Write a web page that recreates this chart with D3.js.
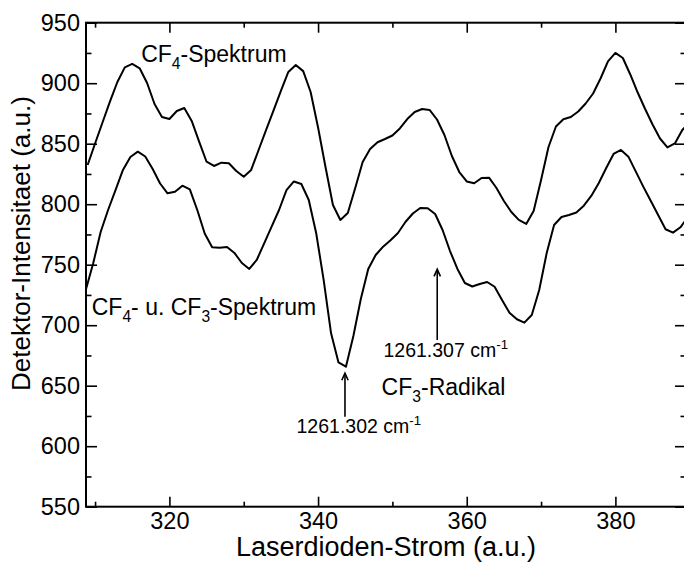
<!DOCTYPE html>
<html>
<head>
<meta charset="utf-8">
<script src="https://cdn.jsdelivr.net/npm/d3@7"></script>
<style>
  body { margin: 0; background: #fff; }
  text { font-family: "Liberation Sans", Arial, Helvetica, sans-serif; fill: #000; }
</style>
</head>
<body>
<svg id="chart" width="684" height="563"></svg>
<script>
// Laser diode current sweep (a.u.)
const xPure = [309, 310, 311, 312, 313, 314, 315, 316, 317, 318, 319, 320, 321, 322, 323, 324, 325, 326, 327, 328,
  329, 330, 331, 332, 333, 334, 335, 336, 337, 338, 339, 340, 341, 342, 343, 344, 345, 346, 347, 348,
  349, 350, 351, 352, 353, 354, 355, 356, 357, 358, 359, 360, 361, 362, 363, 364, 365, 366, 367, 368,
  369, 370, 371, 372, 373, 374, 375, 376, 377, 378, 379, 380, 381, 382, 383, 384, 385, 386, 387, 388,
  389, 390];
// CF4 spectrum (detector intensity, a.u.)
const yPure = [832.4, 850.2, 867.5, 884.8, 901.0, 913.1, 915.9, 912.3, 900.2, 882.8, 872.1, 870.4, 877.0, 879.5, 868.8, 851.7, 835.1, 831.6, 834.3, 833.8,
  827.4, 822.7, 828.3, 844.8, 861.3, 877.4, 893.6, 909.3, 915.0, 910.0, 892.7, 863.4, 830.7, 799.3, 787.0, 792.8, 813.4, 834.9, 845.6, 851.2,
  853.9, 856.8, 862.6, 870.4, 876.2, 878.7, 877.9, 870.0, 857.2, 839.8, 826.6, 818.8, 817.3, 821.7, 821.9, 813.4, 802.6, 793.6, 787.0, 783.7,
  794.4, 820.0, 847.3, 864.2, 870.2, 872.1, 876.6, 883.2, 891.5, 903.9, 918.0, 925.0, 920.8, 907.2, 892.3, 878.7, 865.9, 854.3, 846.9, 850.2,
  861.3, 868.0];

// Discharge scan: CF4 + CF3 spectrum
const xMix = [308.75, 309.75, 310.75, 311.75, 312.75, 313.75, 314.75, 315.75, 316.75, 317.75, 318.75, 319.75, 320.75, 321.75, 322.75, 323.75, 324.75, 325.75, 326.75, 327.75,
  328.75, 329.75, 330.75, 331.75, 332.75, 333.75, 334.75, 335.75, 336.75, 337.75, 338.75, 339.75, 340.75, 341.75, 342.75, 343.75, 344.75, 345.75, 346.75, 347.75,
  348.75, 349.75, 350.75, 351.75, 352.75, 353.75, 354.75, 355.75, 356.75, 357.75, 358.75, 359.75, 360.75, 361.75, 362.75, 363.75, 364.75, 365.75, 366.75, 367.75,
  368.75, 369.75, 370.75, 371.75, 372.75, 373.75, 374.75, 375.75, 376.75, 377.75, 378.75, 379.75, 380.75, 381.75, 382.75, 383.75, 384.75, 385.75, 386.75, 387.75,
  388.75, 389.75];
const yMix = [729.1, 751.2, 777.0, 795.2, 811.7, 828.3, 839.0, 843.4, 839.4, 829.1, 817.1, 809.0, 810.3, 815.3, 812.3, 795.2, 775.8, 764.4, 764.0, 764.6,
  759.7, 751.4, 746.5, 753.9, 767.7, 781.4, 795.2, 811.7, 818.8, 816.7, 803.5, 776.0, 737.4, 693.3, 669.2, 665.7, 691.1, 721.7, 746.5, 758.0,
  764.9, 770.2, 776.2, 785.3, 792.3, 796.9, 796.6, 791.9, 778.7, 761.3, 746.5, 734.9, 732.0, 734.1, 735.7, 731.8, 720.8, 710.3, 704.9, 702.1,
  708.4, 729.1, 759.4, 782.8, 789.4, 791.1, 793.1, 798.8, 806.8, 817.3, 829.7, 841.5, 844.8, 839.3, 826.9, 814.5, 802.9, 791.1, 779.3, 776.5,
  780.9, 789.4];

// Axis ticks
const xMajorTicks = [320, 340, 360, 380];
const xMinorTicks = [310, 330, 350, 370, 390];
const yMajorTicks = [550, 600, 650, 700, 750, 800, 850, 900, 950];
const yMinorTicks = [575, 625, 675, 725, 775, 825, 875, 925];

// Arrows marking the CF3 absorption lines: [x, tip y, tail y]
const arrowX = [343.62, 356.03];
const arrowTip = [660.3, 746.2];
const arrowTail = [624.4, 687.8];

const svg = d3.select("#chart");
const frameL = 86, frameR = 686, frameT = 22.7, frameB = 506.7;

// x scale fixed by the tick positions 320 and 380
const xTmp = d3.scaleLinear().domain([320, 380]).range([169.4, 615.4]);
const x = d3.scaleLinear().domain([xTmp.invert(frameL), xTmp.invert(frameR)]).range([frameL, frameR]);
const y = d3.scaleLinear().domain([550, 950]).range([frameB, frameT]);

svg.append("defs").append("clipPath").attr("id", "clip")
  .append("rect").attr("x", frameL).attr("y", frameT).attr("width", frameR - frameL).attr("height", frameB - frameT);

// Spectra
const line = d3.line().x(d => x(d[0])).y(d => y(d[1]));
const curves = svg.append("g").attr("clip-path", "url(#clip)");
[[xPure, yPure], [xMix, yMix]].forEach(([xs, ys]) => {
  curves.append("path")
    .datum(xs.map((v, i) => [v, ys[i]]))
    .attr("d", line)
    .attr("fill", "none")
    .attr("stroke", "#000")
    .attr("stroke-width", 2)
    .attr("stroke-linejoin", "round");
});

// Axes: ticks pointing into the frame on all four sides
const fs = 23.5;
function styleAxis(g) {
  g.select(".domain").remove();
  g.selectAll(".tick line").attr("stroke", "#000").attr("stroke-width", 1.6);
  g.selectAll("text").attr("font-size", fs).attr("font-family", "Liberation Sans, Arial, sans-serif").attr("fill", "#000");
}
svg.append("g").attr("transform", `translate(0,${frameB})`)
  .call(d3.axisBottom(x).tickValues(xMajorTicks).tickFormat(d3.format("d")).tickSizeInner(-10).tickSizeOuter(0).tickPadding(6))
  .call(styleAxis);
svg.append("g").attr("transform", `translate(0,${frameB})`)
  .call(d3.axisBottom(x).tickValues(xMinorTicks).tickFormat("").tickSizeInner(-5).tickSizeOuter(0))
  .call(styleAxis);
svg.append("g").attr("transform", `translate(0,${frameT})`)
  .call(d3.axisTop(x).tickValues(xMajorTicks).tickFormat("").tickSizeInner(-10).tickSizeOuter(0))
  .call(styleAxis);
svg.append("g").attr("transform", `translate(0,${frameT})`)
  .call(d3.axisTop(x).tickValues(xMinorTicks).tickFormat("").tickSizeInner(-5).tickSizeOuter(0))
  .call(styleAxis);
svg.append("g").attr("transform", `translate(${frameL},0)`)
  .call(d3.axisLeft(y).tickValues(yMajorTicks).tickFormat(d3.format("d")).tickSizeInner(-11).tickSizeOuter(0).tickPadding(6))
  .call(styleAxis);
svg.append("g").attr("transform", `translate(${frameL},0)`)
  .call(d3.axisLeft(y).tickValues(yMinorTicks).tickFormat("").tickSizeInner(-5.5).tickSizeOuter(0))
  .call(styleAxis);
svg.append("g").attr("transform", `translate(${frameR},0)`)
  .call(d3.axisRight(y).tickValues(yMajorTicks).tickFormat("").tickSizeInner(-11).tickSizeOuter(0))
  .call(styleAxis);
svg.append("g").attr("transform", `translate(${frameR},0)`)
  .call(d3.axisRight(y).tickValues(yMinorTicks).tickFormat("").tickSizeInner(-5.5).tickSizeOuter(0))
  .call(styleAxis);

// Frame
svg.append("rect")
  .attr("x", frameL).attr("y", frameT).attr("width", frameR - frameL).attr("height", frameB - frameT)
  .attr("fill", "none").attr("stroke", "#000").attr("stroke-width", 2);

// Axis titles
svg.append("text")
  .attr("x", 386).attr("y", 556)
  .attr("text-anchor", "middle").attr("font-size", 27)
  .text("Laserdioden-Strom (a.u.)");
svg.append("text")
  .attr("transform", "translate(30,243.5) rotate(-90)")
  .attr("text-anchor", "middle").attr("font-size", 26)
  .text("Detektor-Intensitaet (a.u.)");

// Labels with chemical subscripts / unit superscripts
function label(px, py, size, parts) {
  const t = svg.append("text").attr("x", px).attr("y", py).attr("font-size", size);
  let shift = 0;
  parts.forEach(p => {
    const [str, kind] = typeof p === "string" ? [p, null] : p;
    let target = 0;
    let fsz = size;
    if (kind === "sub") { target = 0.3 * size; fsz = 0.68 * size; }
    if (kind === "sup") { target = -0.42 * size; fsz = 0.68 * size; }
    t.append("tspan").attr("dy", target - shift).attr("font-size", fsz).text(str);
    shift = target;
  });
  return t;
}
label(x(316.2), y(917.8), 23, ["CF", ["4", "sub"], "-Spektrum"]);
label(x(309.55), y(708.4), 23, ["CF", ["4", "sub"], "- u. CF", ["3", "sub"], "-Spektrum"]);
label(x(348.8), y(673.5), 19.5, ["1261.307 cm", ["-1", "sup"]]);
label(x(337.1), y(610.7), 19.5, ["1261.302 cm", ["-1", "sup"]]);
label(x(348.55), y(642.3), 23, ["CF", ["3", "sub"], "-Radikal"]);

// Arrows
arrowX.forEach((ax, i) => {
  const px = x(ax), tip = y(arrowTip[i]), tail = y(arrowTail[i]);
  svg.append("line").attr("x1", px).attr("x2", px).attr("y1", tip + 1).attr("y2", tail)
    .attr("stroke", "#000").attr("stroke-width", 1.6);
  svg.append("path")
    .attr("d", `M${px - 3.2},${tip + 7} L${px},${tip} L${px + 3.2},${tip + 7}`)
    .attr("fill", "none").attr("stroke", "#000").attr("stroke-width", 1.6);
});
</script>
</body>
</html>
